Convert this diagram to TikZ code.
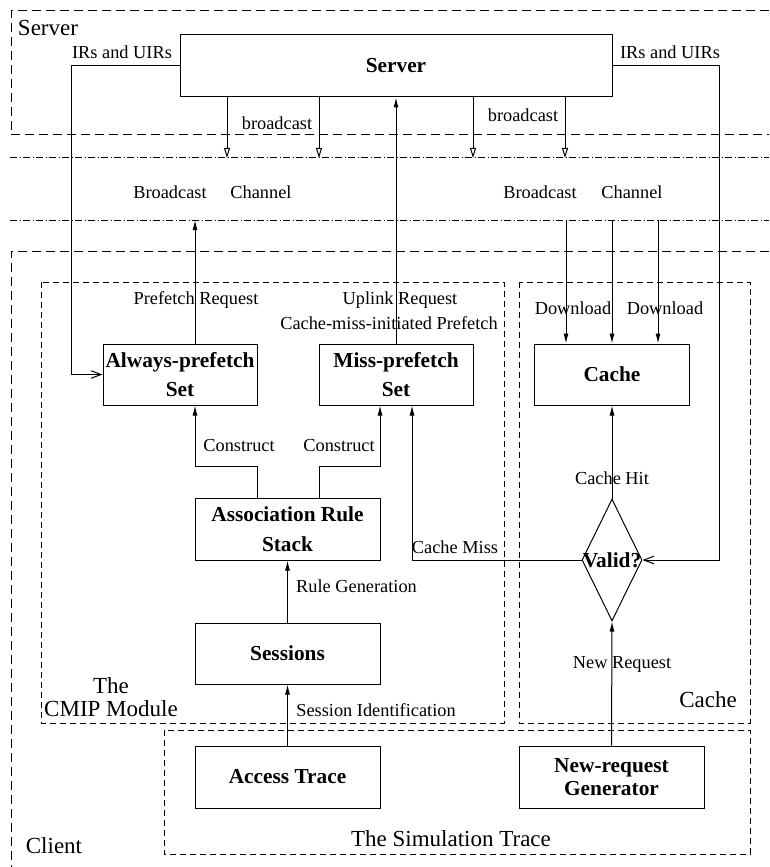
\documentclass[tikz,border=0pt]{standalone}
\usepackage{fontspec}
\setmainfont{Liberation Serif}
\usetikzlibrary{positioning,arrows.meta,shapes.geometric,calc}

\begin{document}
\begin{tikzpicture}[x=0.6pt, y=-0.6pt, line width=0.6pt,
    every node/.style={font=\fontsize{11}{13}\selectfont},
    box/.style={draw, inner sep=0pt, align=center, font=\fontsize{12.8}{15}\selectfont\bfseries},
    region/.style={font=\fontsize{13.8}{16}\selectfont, align=center},
    bigdash/.style={dash pattern=on 5.4pt off 3pt},
    smalldash/.style={dash pattern=on 3.6pt off 2.4pt},
    chline/.style={dash pattern=on 4.2pt off 1.5pt on 0.6pt off 1.5pt},
    arr/.style={-{Latex[length=6pt,width=3pt]}},
    openarr/.style={-{Straight Barb[length=6pt,width=4.5pt]}},
    bcarr/.style={-{Triangle[open,length=6pt,width=3.6pt]}}]
  \useasboundingbox (0,0) rectangle (769,867);
  % regions and channel
  \draw[bigdash] (769,11) -| (11,135) -- (769,135);
  \draw[bigdash] (769,251) -| (11,867);
  \draw[chline] (10,158) -- (769,158);
  \draw[chline] (10,220) -- (769,220);
  \coordinate (chtop) at (0,158);
  \coordinate (chbot) at (0,220);
  \draw[smalldash] (41,282) rectangle (504,723);
  \draw[smalldash] (519,282) rectangle (750,723);
  \draw[smalldash] (164,730) rectangle (750,854);
  \node[region] (lsrv) at (48,28) {Server};
  \node[region] (lclient) at (54,846) {Client};
  \node[region] (lcmip) at (111,697) {The\\[-2.5pt]CMIP Module};
  \node[region] (lcache) at (708,700) {Cache};
  \node[region] (lsim) at (451,839) {The Simulation Trace};
  % boxes
  \node[box, minimum width=259.2pt, minimum height=37.2pt] (srv) at (396,66) {Server};
  \node[box, minimum width=92.4pt, minimum height=36.6pt] (aps) at (180,374.5) {Always-prefetch\\[2.4pt]Set};
  \node[box, minimum width=92.4pt, minimum height=36.6pt] (mps) at (396,374.5) {Miss-prefetch\\[2.4pt]Set};
  \node[box, minimum width=93pt, minimum height=36.6pt] (cache) at (612,374.5) {Cache};
  \node[box, minimum width=111pt, minimum height=37.2pt] (ars) at (287.5,529) {Association Rule\\[3pt]Stack};
  \node[box, minimum width=111pt, minimum height=36.6pt] (ses) at (287.5,653.5) {Sessions};
  \node[box, minimum width=111pt, minimum height=37.2pt] (acc) at (287.5,777) {Access Trace};
  \node[box, minimum width=111pt, minimum height=37.2pt] (gen) at (611.5,777) {New-request\\[-1pt]Generator};
  \node[diamond, draw, inner sep=0pt, minimum width=36pt, minimum height=73.2pt] (valid) at (612,560) {};
  \node[font=\fontsize{12.8}{15}\selectfont\bfseries, inner sep=0pt] (validtxt) at (valid.center) {Valid?};
  % server side
  \draw[openarr] (srv.west) -- ++(-108,0) |- (aps.west);
  \draw[openarr] (srv.east) -- ++(107,0) |- (valid.east);
  \node (lirl) at (122,52) {IRs and UIRs};
  \node (lirr) at (670,52) {IRs and UIRs};
  \foreach \dx in {-169,-77,77,169}
    \draw[bcarr] ($(srv.south)+(\dx,0)$) coordinate (b) -- (b |- chtop);
  \node (lbcl) at (277,123) {broadcast};
  \node (lbcr) at (523,115) {broadcast};
  \node (lch1) at (170,192) {Broadcast};
  \node (lch2) at (261,192) {Channel};
  \node (lch3) at (540,192) {Broadcast};
  \node (lch4) at (632,192) {Channel};
  % client side
  \draw[arr] (mps.north) -- (srv.south);
  \draw[arr] ($(aps.north)+(15,0)$) coordinate (p) -- (p |- chbot);
  \foreach \dx in {-46,0,46}
    \draw[arr] ($(cache.north)+(\dx,0)$) coordinate (d) (d |- chbot) -- (d);
  \node (lpre) at (196,300) {Prefetch Request};
  \node (lup) at (400,300) {Uplink Request};
  \node (lcmi) at (389,323) {Cache-miss-initiated Prefetch};
  \node (ldl1) at (573,308) {Download};
  \node (ldl2) at (665,308) {Download};
  \draw[arr] ($(ars.north)+(-30.5,0)$) -- ++(0,-31) -| ($(aps.south)+(15,0)$);
  \draw[arr] ($(ars.north)+(31.5,0)$) -- ++(0,-31) -| ($(mps.south)+(-16,0)$);
  \node (lcon1) at (239,446) {Construct};
  \node (lcon2) at (339,446) {Construct};
  \draw[arr] (valid.west) -| ($(mps.south)+(16,0)$);
  \node (lmiss) at (455,547) {Cache Miss};
  \draw[arr] (valid.north) -- (cache.south);
  \node (lhit) at (612,478) {Cache Hit};
  \draw[arr] (ses.north) -- (ars.south);
  \node (lrule) at (356.5,586) {Rule Generation};
  \draw[arr] (acc.north) -- (ses.south);
  \node (lsid) at (376,710) {Session Identification};
  \draw[arr] (gen.north) -- (valid.south);
  \node (lnew) at (622,664) {New Request};
\end{tikzpicture}
\end{document}
